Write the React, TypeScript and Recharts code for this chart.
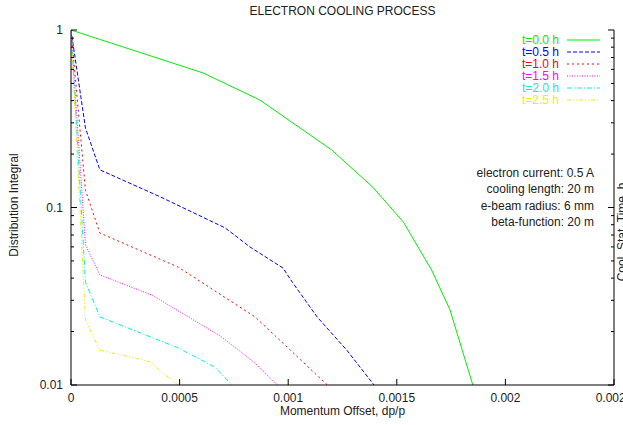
import React from 'react'
import { LineChart, Line, XAxis, YAxis } from 'recharts'

// momentum offset (dp/p) and distribution integral, one pair of arrays per time step
const t00X = [0, 0.000608, 0.00087, 0.0012, 0.00139, 0.00153, 0.00166, 0.001745, 0.00185]
const t00Y = [1, 0.573, 0.403, 0.211, 0.13, 0.0829, 0.0445, 0.0265, 0.01]

const t05X = [0, 0.0000667, 0.000133, 0.00041, 0.00071, 0.000824, 0.000976, 0.00102, 0.001133, 0.00127, 0.001395]
const t05Y = [1, 0.28, 0.163, 0.115, 0.0767, 0.0599, 0.0456, 0.0378, 0.0242, 0.0157, 0.01]

const t10X = [0, 0.0000667, 0.000133, 0.000493, 0.000847, 0.000976, 0.00118]
const t10Y = [1, 0.125, 0.0718, 0.0462, 0.0242, 0.0172, 0.01]

const t15X = [0, 0.0000667, 0.000133, 0.000373, 0.000695, 0.000847, 0.00095]
const t15Y = [1, 0.0615, 0.0417, 0.0321, 0.0186, 0.0133, 0.01]

const t20X = [0, 0.0000667, 0.000133, 0.000493, 0.000663, 0.00074]
const t20Y = [1, 0.038, 0.0242, 0.0162, 0.0126, 0.01]

const t25X = [0, 0.0000667, 0.000133, 0.000272, 0.000364, 0.000433, 0.000493]
const t25Y = [1, 0.0232, 0.0157, 0.0144, 0.0135, 0.0114, 0.01]

const xTicks = [0, 0.0005, 0.001, 0.0015, 0.002, 0.0025]
const xTickLabels = ['0', '0.0005', '0.001', '0.0015', '0.002', '0.0025']
const yMajor = [0.01, 0.1, 1]
const yMajorLabels = ['0.01', '0.1', '1']
const yTicks = [
  0.01, 0.02, 0.03, 0.04, 0.05, 0.06, 0.07, 0.08, 0.09,
  0.1, 0.2, 0.3, 0.4, 0.5, 0.6, 0.7, 0.8, 0.9, 1,
]

const notes = [
  'electron current: 0.5 A',
  'cooling length: 20 m',
  'e-beam radius: 6 mm',
  'beta-function: 20 m',
]

const zip = (xs: number[], ys: number[]) => xs.map((x, i) => ({ x, y: ys[i] }))

const series = [
  { name: 't=0.0 h', data: zip(t00X, t00Y), color: '#00ee00', dash: undefined },
  { name: 't=0.5 h', data: zip(t05X, t05Y), color: '#0000ff', dash: '4 2' },
  { name: 't=1.0 h', data: zip(t10X, t10Y), color: '#ff0000', dash: '2 3' },
  { name: 't=1.5 h', data: zip(t15X, t15Y), color: '#ff00ff', dash: '1 1.5' },
  { name: 't=2.0 h', data: zip(t20X, t20Y), color: '#00eeee', dash: '5 2 1 2' },
  { name: 't=2.5 h', data: zip(t25X, t25Y), color: '#eeee00', dash: '4 2 1 2 1 2' },
]

const FONT = '"Liberation Sans", Arial, sans-serif'
const FS = 12
const M = 8 // tick margin used by all axes

const isMajor = (v: number) => yMajor.some((m) => Math.abs(m - v) < 1e-9)

const LeftTick = (props: any) => {
  const { x, y, payload } = props
  const major = isMajor(payload.value)
  const ax = x + M
  const idx = yMajor.findIndex((m) => Math.abs(m - payload.value) < 1e-9)
  return (
    <g>
      <line x1={ax} x2={ax + (major ? 6 : 3)} y1={y} y2={y} stroke="#000" />
      {major && (
        <text x={x} y={y} dy={4} textAnchor="end" fontSize={FS} fill="#222" fontFamily={FONT}>
          {yMajorLabels[idx]}
        </text>
      )}
    </g>
  )
}

const RightTick = (props: any) => {
  const { x, y, payload } = props
  const major = isMajor(payload.value)
  const ax = x - M
  return <line x1={ax} x2={ax - (major ? 6 : 3)} y1={y} y2={y} stroke="#000" />
}

const BottomTick = (props: any) => {
  const { x, y, payload, index } = props
  const ay = y - M
  return (
    <g>
      <line x1={x} x2={x} y1={ay} y2={ay - 6} stroke="#000" />
      <text x={x} y={y} dy={9} textAnchor="middle" fontSize={FS} fill="#222" fontFamily={FONT}>
        {xTickLabels[index] ?? String(payload.value)}
      </text>
    </g>
  )
}

const TopTick = (props: any) => {
  const { x, y } = props
  const ay = y + M
  return <line x1={x} x2={x} y1={ay} y2={ay + 6} stroke="#000" />
}

export default function App() {
  return (
    <div
      style={{
        position: 'absolute',
        left: 0,
        top: 0,
        width: 623,
        height: 425,
        overflow: 'hidden',
        background: '#fff',
        fontFamily: FONT,
        color: '#222',
      }}
    >
      <LineChart width={623} height={425} margin={{ top: 30, right: 0, bottom: 0, left: 10 }}>
        <XAxis
          xAxisId="b"
          dataKey="x"
          type="number"
          domain={[0, 0.0025]}
          ticks={xTicks}
          interval={0}
          allowDataOverflow
          height={40}
          tickSize={0}
          tickMargin={M}
          tickLine={false}
          axisLine={{ stroke: '#000' }}
          tick={<BottomTick />}
        />
        <XAxis
          xAxisId="t"
          orientation="top"
          dataKey="x"
          type="number"
          domain={[0, 0.0025]}
          ticks={xTicks}
          interval={0}
          allowDataOverflow
          height={0}
          tickSize={0}
          tickMargin={M}
          tickLine={false}
          axisLine={{ stroke: '#000' }}
          tick={<TopTick />}
        />
        <YAxis
          yAxisId="l"
          type="number"
          scale="log"
          domain={[0.01, 1]}
          ticks={yTicks}
          interval={0}
          allowDataOverflow
          width={61}
          tickSize={0}
          tickMargin={M}
          tickLine={false}
          axisLine={{ stroke: '#000' }}
          tick={<LeftTick />}
        />
        <YAxis
          yAxisId="r"
          orientation="right"
          type="number"
          scale="log"
          domain={[0.01, 1]}
          ticks={yTicks}
          interval={0}
          allowDataOverflow
          width={9}
          tickSize={0}
          tickMargin={M}
          tickLine={false}
          axisLine={{ stroke: '#000' }}
          tick={<RightTick />}
        />
        {series.map((s) => (
          <Line
            key={s.name}
            xAxisId="b"
            yAxisId="l"
            data={s.data}
            dataKey="y"
            name={s.name}
            type="linear"
            stroke={s.color}
            strokeWidth={1}
            strokeDasharray={s.dash}
            dot={false}
            activeDot={false}
            isAnimationActive={false}
          />
        ))}
      </LineChart>

      {/* title */}
      <div style={{ position: 'absolute', left: 71, width: 543, top: 4, textAlign: 'center', fontSize: FS }}>
        ELECTRON COOLING PROCESS
      </div>

      {/* x axis label */}
      <div style={{ position: 'absolute', left: 71, width: 543, top: 404, textAlign: 'center', fontSize: FS }}>
        Momentum Offset, dp/p
      </div>

      {/* y axis label */}
      <div
        style={{
          position: 'absolute',
          left: 14,
          top: 205,
          fontSize: FS,
          whiteSpace: 'nowrap',
          transform: 'translate(-50%, -50%) rotate(-90deg)',
        }}
      >
        Distribution Integral
      </div>

      {/* y2 label, cut by the image edge as in the original */}
      <div
        style={{
          position: 'absolute',
          left: 622,
          top: 232,
          fontSize: FS,
          whiteSpace: 'nowrap',
          transform: 'translate(-50%, -50%) rotate(-90deg)',
        }}
      >
        Cool. Stat. Time, h
      </div>

      {/* legend */}
      <div style={{ position: 'absolute', left: 470, width: 130, top: 34, fontSize: FS }}>
        {series.map((s) => (
          <div
            key={s.name}
            style={{ display: 'flex', justifyContent: 'flex-end', alignItems: 'center', height: 12 }}
          >
            <span style={{ color: s.color, lineHeight: '12px' }}>{s.name}</span>
            <svg width={33} height={6} style={{ marginLeft: 8 }}>
              <line x1={0} x2={33} y1={3} y2={3} stroke={s.color} strokeDasharray={s.dash} />
            </svg>
          </div>
        ))}
      </div>

      {/* run parameters */}
      <div style={{ position: 'absolute', left: 430, width: 164, top: 165, fontSize: FS, textAlign: 'right' }}>
        {notes.map((n) => (
          <div key={n} style={{ height: 16.4, lineHeight: '16.4px' }}>
            {n}
          </div>
        ))}
      </div>
    </div>
  )
}
